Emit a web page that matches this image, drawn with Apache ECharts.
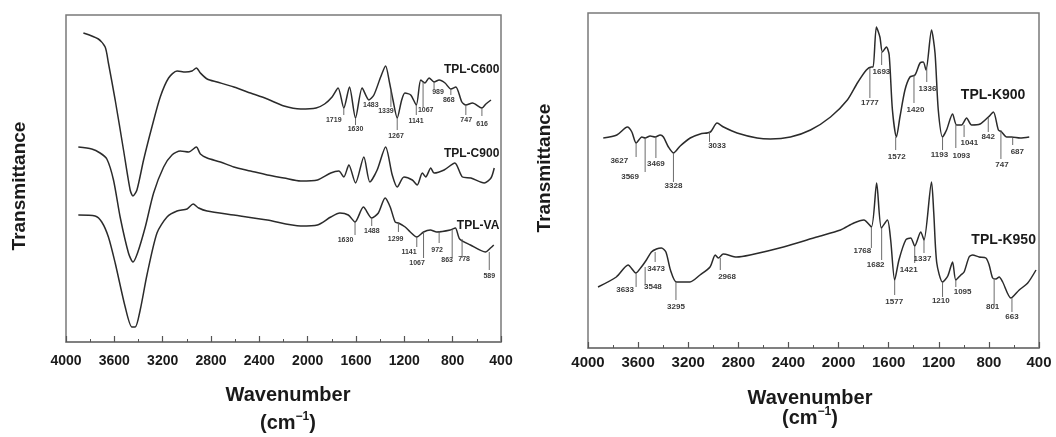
<!DOCTYPE html>
<html><head><meta charset="utf-8">
<script src="https://cdn.jsdelivr.net/npm/echarts@6/dist/echarts.min.js"></script>
<style>html,body{margin:0;padding:0;background:#fff}#c{width:1056px;height:437px}</style>
</head><body><div id="c"></div>
<script>
// ---- data: [wavenumber (cm-1), transmittance (a.u.)] ----
const tplC600 = [[3856,309],[3732,303],[3676,295],[3649,279],[3593,242],[3524,192],[3469,152],[3446,146],[3413,152],[3358,182],[3289,215],[3220,245],[3151,264],[3081,271],[3012,270],[2957,271],[2921,274],[2888,269],[2832,263],[2749,260],[2611,255],[2473,249],[2334,243],[2196,236],[2058,233],[1930,234],[1860,238],[1798,245],[1748,254],[1701,234],[1654,255],[1604,224],[1549,254],[1493,242],[1452,247],[1396,265],[1355,276],[1322,259],[1294,242],[1259,224],[1222,242],[1195,249],[1147,247],[1101,237],[1064,262],[1029,259],[995,264],[954,260],[912,262],[863,259],[815,253],[774,255],[724,240],[691,237],[636,239],[558,234],[525,238],[483,242]];
const tplC900 = [[3898,195],[3787,193],[3718,189],[3662,183],[3607,162],[3552,125],[3483,89],[3446,80],[3408,89],[3344,115],[3275,149],[3192,175],[3123,187],[3054,191],[2985,190],[2921,195],[2888,188],[2832,184],[2722,180],[2611,175],[2473,171],[2334,167],[2196,164],[2058,161],[1919,162],[1809,169],[1742,171],[1701,165],[1659,177],[1604,159],[1535,185],[1485,160],[1425,172],[1355,195],[1300,167],[1259,155],[1203,165],[1134,162],[1093,157],[1051,169],[1023,165],[981,174],[954,169],[871,172],[782,179],[719,165],[649,164],[539,159],[483,164],[456,174]];
const tplVA = [[3898,127],[3759,126],[3704,120],[3649,105],[3593,79],[3510,35],[3455,15],[3427,15],[3386,32],[3330,67],[3247,109],[3164,125],[3081,131],[2998,133],[2948,138],[2902,134],[2832,131],[2611,127],[2334,122],[2058,116],[1919,117],[1809,125],[1733,129],[1664,127],[1608,120],[1539,135],[1470,124],[1415,129],[1359,144],[1317,135],[1276,120],[1249,119],[1193,115],[1151,110],[1097,105],[1041,110],[985,112],[931,110],[820,112],[778,114],[742,103],[653,97],[529,90],[487,94],[460,97]];
const tplK900 = [[3878,210],[3770,213],[3686,221],[3650,216],[3616,205],[3570,211],[3544,210],[3504,212],[3464,211],[3424,213],[3398,211],[3358,201],[3318,195],[3264,202],[3184,210],[3104,214],[3024,216],[2970,225],[2918,221],[2810,215],[2650,210],[2544,209],[2384,211],[2224,218],[2064,231],[1930,248],[1850,265],[1778,278],[1738,281],[1724,281],[1698,321],[1670,311],[1650,296],[1618,301],[1596,293],[1570,238],[1538,211],[1510,231],[1470,258],[1430,271],[1390,273],[1350,285],[1324,286],[1302,278],[1258,318],[1230,295],[1204,238],[1170,211],[1138,218],[1090,234],[1058,223],[1018,223],[978,230],[938,223],[870,224],[804,231],[764,236],[724,218],[698,216],[658,211],[618,211],[550,210],[478,211]];
const tplK950 = [[3920,61],[3774,71],[3680,83],[3618,75],[3574,81],[3534,88],[3494,96],[3454,99],[3414,100],[3378,96],[3342,78],[3294,66],[3186,66],[3106,73],[3026,81],[2984,93],[2960,90],[2920,94],[2814,91],[2706,93],[2440,101],[2174,111],[1984,118],[1878,125],[1798,128],[1738,121],[1696,165],[1658,120],[1610,128],[1584,108],[1552,68],[1518,88],[1464,108],[1424,110],[1392,102],[1344,116],[1318,108],[1258,166],[1240,135],[1216,85],[1170,66],[1128,72],[1090,86],[1064,68],[1024,73],[998,76],[958,91],[930,93],[878,91],[824,90],[798,83],[770,70],[744,69],[718,71],[690,66],[624,50],[558,58],[490,65],[424,78]];

// ---- peak annotations: [line wavenumber, top, bottom, label, label wavenumber, label level] ----
const peaksC600 = [[1701,234,227,'1719',1784,222],[1604,224,217,'1630',1604,213],[1493,242,242,'1483',1477,237],[1311,253,235,'1339',1352,231],[1259,224,212,'1267',1269,206],[1101,237,227,'1141',1103,221],[1045,260,235,'1067',1023,232],[954,260,253,'989',921,250],[815,253,247,'868',832,242],[691,237,227,'747',688,222],[558,234,226,'616',556,218]];
const peaksVA = [[1608,120,107,'1630',1687,102],[1470,124,116,'1488',1469,111],[1249,119,110,'1299',1272,103],[1097,105,95,'1141',1161,90],[1041,110,84,'1067',1095,79],[912,111,99,'972',929,92],[804,112,84,'863',846,82],[722,103,84,'778',705,83],[497,90,72,'589',497,66]];
const peaksK900 = [[3616,205,191,'3627',3750,187],[3544,210,176,'3569',3664,171],[3458,211,190,'3469',3458,184],[3318,195,166,'3328',3318,162],[3030,216,206,'3033',2970,202],[1750,280,250,'1777',1750,245],[1656,296,283,'1693',1658,276],[1544,211,198,'1572',1536,191],[1398,273,245,'1420',1386,238],[1296,280,266,'1336',1290,259],[1170,211,198,'1193',1194,193],[1064,223,200,'1093',1020,192],[998,223,211,'1041',956,205],[805,230,216,'842',805,211],[704,218,189,'747',696,183],[610,210,203,'687',573,196]];
const peaksK950 = [[3616,75,61,'3633',3704,58],[3544,81,63,'3548',3482,61],[3464,96,86,'3473',3456,79],[3298,66,48,'3295',3298,41],[2944,90,78,'2968',2890,71],[1738,121,100,'1768',1810,97],[1656,120,88,'1682',1704,83],[1552,68,53,'1577',1556,46],[1392,102,85,'1421',1440,78],[1318,108,95,'1337',1330,89],[1170,66,51,'1210',1184,47],[1064,68,61,'1095',1010,56],[758,70,43,'801',770,41],[616,50,36,'663',616,31]];

// ---- sample names: [wavenumber, level, text] ----
const namesLeft = [[414,272,'TPL-C600'],[414,188,'TPL-C900'],[414,116,'TPL-VA']];
const namesRight = [[1024,253,'TPL-K900'],[940,108,'TPL-K950']];

const xTicks = {min:400, max:4000, interval:400};
const FONT = '"Liberation Sans", Arial, sans-serif';
const chart = echarts.init(document.getElementById('c'), null, {renderer:'canvas'});

function lineSeries(i, data){
  return {type:'line', xAxisIndex:i, yAxisIndex:i, data, showSymbol:false, smooth:0.25,
    lineStyle:{color:'#2b2b2b', width:1.5}, silent:true, z:3};
}
function peakSeries(i, arr, fs){
  return {type:'custom', xAxisIndex:i, yAxisIndex:i, silent:true, z:4,
    data: arr.map(d=>[d[0], d[1], d[2]]),
    renderItem:(params, api)=>{
      const d = arr[params.dataIndex];
      const a = api.coord([d[0], d[1]]), b = api.coord([d[0], d[2]]), t = api.coord([d[4], d[5]]);
      return {type:'group', children:[
        {type:'line', shape:{x1:a[0], y1:a[1], x2:b[0], y2:b[1]}, style:{stroke:'#5a5a5a', lineWidth:0.9}},
        {type:'text', x:t[0], y:t[1], style:{text:d[3], fontSize:fs, fontWeight:'bold', fontFamily:FONT, fill:'#3a3a3a', align:'center', verticalAlign:'middle'}}
      ]};
    }};
}
function nameSeries(i, arr, fs, align){
  return {type:'custom', xAxisIndex:i, yAxisIndex:i, silent:true, z:5,
    data: arr.map(d=>[d[0], d[1]]),
    renderItem:(params, api)=>{
      const d = arr[params.dataIndex];
      const p = api.coord([d[0], d[1]]);
      return {type:'text', x:p[0], y:p[1], style:{text:d[2], fontSize:fs, fontWeight:'bold', fontFamily:FONT, fill:'#1a1a1a', align, verticalAlign:'middle'}};
    }};
}
function xAxis(i, fs, margin){
  return Object.assign({type:'value', gridIndex:i, inverse:true,
    axisLine:{show:true, lineStyle:{color:'#7a7a7a', width:1.5}},
    axisTick:{show:true, inside:true, length:6, lineStyle:{color:'#555', width:1.2}},
    minorTick:{show:true, splitNumber:2, length:3, lineStyle:{color:'#555', width:1}},
    splitLine:{show:false},
    axisLabel:{fontSize:fs, fontWeight:'bold', fontFamily:FONT, color:'#1a1a1a', margin, showMinLabel:true, showMaxLabel:true,
      formatter:(v)=>String(v)}
  }, xTicks);
}
function yAxis(i, max){
  return {type:'value', gridIndex:i, min:0, max, show:false};
}

const titleStyle = (fs)=>({fontSize:fs, fontWeight:'bold', fontFamily:FONT, fill:'#1a1a1a', align:'center', verticalAlign:'middle'});
const cmRich = (fs)=>({a:{fontSize:fs, fontWeight:'bold', fontFamily:FONT, fill:'#1a1a1a', lineHeight:fs+4},
  s:{fontSize:Math.round(fs*0.6), fontWeight:'bold', fontFamily:FONT, fill:'#1a1a1a', verticalAlign:'top', lineHeight:fs+4}});

chart.setOption({
  animation:false,
  grid:[
    {left:66, top:15, width:435, height:327, show:true, borderColor:'#7a7a7a', borderWidth:1.5},
    {left:588, top:13, width:451, height:335, show:true, borderColor:'#7a7a7a', borderWidth:1.5}
  ],
  xAxis:[xAxis(0, 14, 12), xAxis(1, 15, 7)],
  yAxis:[yAxis(0, 327), yAxis(1, 335)],
  series:[
    lineSeries(0, tplC600), lineSeries(0, tplC900), lineSeries(0, tplVA),
    peakSeries(0, peaksC600, 7), peakSeries(0, peaksVA, 7),
    nameSeries(0, namesLeft, 12, 'right'),
    lineSeries(1, tplK900), lineSeries(1, tplK950),
    peakSeries(1, peaksK900, 8), peakSeries(1, peaksK950, 8),
    nameSeries(1, namesRight, 14, 'left')
  ],
  graphic:[
    {type:'text', x:20, y:186, rotation:Math.PI/2, style:Object.assign({text:'Transmittance'}, titleStyle(19))},
    {type:'text', x:545, y:168, rotation:Math.PI/2, style:Object.assign({text:'Transmittance'}, titleStyle(19))},
    {type:'text', x:288, y:395, style:Object.assign({text:'Wavenumber'}, titleStyle(20))},
    {type:'text', x:288, y:423, style:{text:'{a|(cm}{s|−1}{a|)}', rich:cmRich(20), align:'center', verticalAlign:'middle'}},
    {type:'text', x:810, y:398, style:Object.assign({text:'Wavenumber'}, titleStyle(20))},
    {type:'text', x:810, y:418, style:{text:'{a|(cm}{s|−1}{a|)}', rich:cmRich(20), align:'center', verticalAlign:'middle'}}
  ]
});
</script></body></html>
